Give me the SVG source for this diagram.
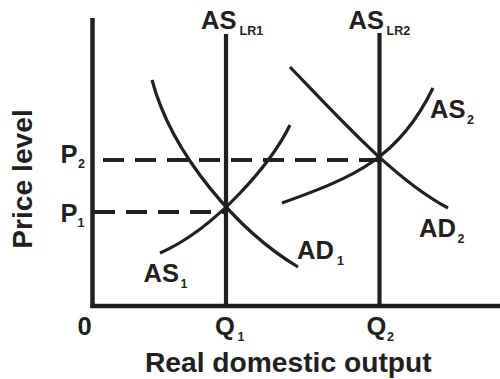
<svg xmlns="http://www.w3.org/2000/svg" width="500" height="379" viewBox="0 0 500 379">
<style>
.ax{stroke:#231f20;stroke-width:4.5;fill:none}
.lr{stroke:#231f20;stroke-width:4.2;fill:none}
.cv{stroke:#231f20;stroke-width:3.2;fill:none;stroke-linecap:butt}
.ds{stroke:#231f20;stroke-width:4.2;fill:none;stroke-dasharray:21 11}
text{font-family:"Liberation Sans",Arial,sans-serif;font-weight:bold;fill:#231f20}
.lb{font-size:25.5px}
.sb{font-size:12.5px}
.ti{font-size:28.2px}
</style>
<rect width="500" height="379" fill="#ffffff"/>
<g id="axes">
<line class="ax" x1="92.5" y1="18" x2="92.5" y2="308"/>
<line class="ax" x1="90.5" y1="306" x2="500" y2="306"/>
</g>
<g id="connectors">
<line class="ds" x1="103" y1="160" x2="379" y2="160"/>
<line class="ds" x1="94" y1="212" x2="226" y2="212"/>
</g>
<g id="aslr1">
<line class="lr" x1="226" y1="34" x2="226" y2="306"/>
<text class="lb" x="201" y="28.5">AS</text><text class="sb" x="239.5" y="35">LR1</text>
</g>
<g id="aslr2">
<line class="lr" x1="379.5" y1="33" x2="379.5" y2="306"/>
<text class="lb" x="348.5" y="28.5">AS</text><text class="sb" x="386.5" y="35">LR2</text>
</g>
<g id="ad1">
<path class="cv" d="M152,80 C172,155 238,231 298,267"/>
<text class="lb" x="297" y="259">AD</text><text class="sb" x="337" y="264.5">1</text>
</g>
<g id="as1">
<path class="cv" d="M160,253 C217,228 272,162 290,125"/>
<text class="lb" x="143.5" y="282">AS</text><text class="sb" x="180.5" y="287.5">1</text>
</g>
<g id="ad2">
<path class="cv" d="M290,67 C340,119 395,180 448,208"/>
<text class="lb" x="419" y="237">AD</text><text class="sb" x="457.5" y="243">2</text>
</g>
<g id="as2">
<path class="cv" d="M282,203 C355,177 399,158 433,88"/>
<text class="lb" x="430" y="118">AS</text><text class="sb" x="467" y="124">2</text>
</g>
<g id="p2">
<text class="lb" x="60.5" y="163">P</text><text class="sb" x="78" y="168">2</text>
</g>
<g id="p1">
<text class="lb" x="60.5" y="222">P</text><text class="sb" x="77.5" y="226.5">1</text>
</g>
<g id="zero"><text class="lb" x="77.5" y="335">0</text></g>
<g id="q1">
<text class="lb" x="215" y="335">Q</text><text class="sb" x="237.5" y="340.5">1</text>
</g>
<g id="q2">
<text class="lb" x="366.5" y="335">Q</text><text class="sb" x="387" y="341">2</text>
</g>
<g id="xlabel"><text class="ti" x="145" y="372">Real domestic output</text></g>
<g id="ylabel"><text class="ti" x="0" y="0" text-anchor="middle" transform="translate(31.5,179) rotate(-90)">Price level</text></g>
</svg>
